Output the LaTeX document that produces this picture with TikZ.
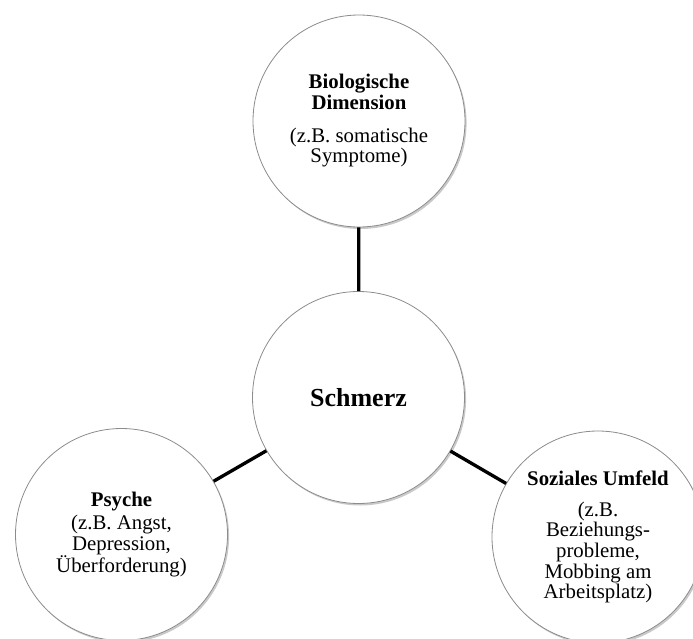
\documentclass[tikz,border=0pt]{standalone}
\usepackage{fontspec}
\setmainfont{Liberation Serif}
\usetikzlibrary{shadows}
\begin{document}
\begin{tikzpicture}[x=0.75pt,y=-0.75pt,
  bubble/.style={circle, draw={rgb,255:red,140;green,140;blue,140}, line width=0.6pt,
    fill=white, minimum size=159pt, inner sep=0pt, align=center,
    font=\fontsize{15.6}{15.5}\selectfont,
    drop shadow={shadow xshift=1.2pt, shadow yshift=-1.5pt, opacity=0.3, fill=black!70}},
  link/.style={line width=2.5pt, black}]
\useasboundingbox (0,0) rectangle (693,639);

% Circles
\node [bubble] (schmerz) at (358.5,397.5) {\fontsize{19.5}{20}\selectfont\textbf{Schmerz}};
\node [bubble] (bio) at (359,121) {\textbf{Biologische}\\\textbf{Dimension}\\[9pt](z.B. somatische\\Symptome)};
\node [bubble] (psyche) at (121.5,534.5) {\textbf{Psyche}\\[2pt](z.B. Angst,\\Depression,\\Überforderung)};
\node [bubble] (sozial) at (598,537) {\textbf{Soziales Umfeld}\\[7.5pt](z.B.\\Beziehungs-\\probleme,\\Mobbing am\\Arbeitsplatz)};

% Connectors
\draw [link] (schmerz) -- (bio);
\draw [link] (schmerz) -- (psyche);
\draw [link] (schmerz) -- (sozial);

\end{tikzpicture}
\end{document}
